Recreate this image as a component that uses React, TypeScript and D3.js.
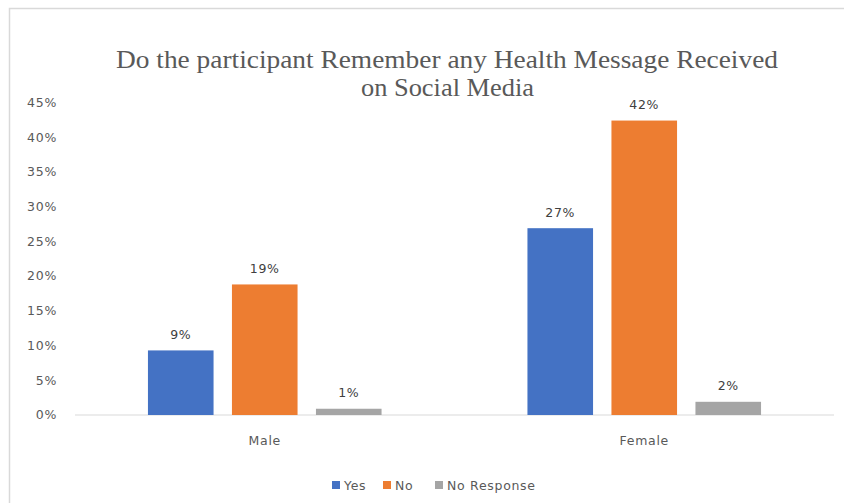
import React from "react";
import * as d3 from "d3";

const categories = ["Male", "Female"];
const seriesNames = ["Yes", "No", "No Response"];
const yesValues = [9.3, 26.9];
const noValues = [18.8, 42.4];
const noResponseValues = [0.9, 1.9];
const labelYes = ["9%", "27%"];
const labelNo = ["19%", "42%"];
const labelNoResponse = ["1%", "2%"];
const yTicks = [0, 5, 10, 15, 20, 25, 30, 35, 40, 45];
const colors = ["#4472C4", "#ED7D31", "#A5A5A5"];

const W = 844;
const H = 503;

export default function App() {
  const series = [yesValues, noValues, noResponseValues];
  const labels = [labelYes, labelNo, labelNoResponse];
  const x0 = d3.scaleBand<string>().domain(categories).range([75, 834]).paddingInner(0).paddingOuter(0);
  const y = d3.scaleLinear().domain([0, 45]).range([415, 102.5]);
  const barW = 65.6;
  const step = 84;
  const font = "'DejaVu Sans', 'Open Sans', sans-serif";
  const fs = 12.5;
  const ls = 0.7;
  const legendItems = [
    { x: 332, name: seriesNames[0] },
    { x: 383, name: seriesNames[1] },
    { x: 435, name: seriesNames[2] },
  ];
  return (
    <svg width={W} height={H} style={{ position: "absolute", left: 0, top: 0, background: "#fff" }}>
      <rect x={0} y={0} width={W} height={H} fill="#fff" />
      <rect x={9.5} y={8.5} width={W} height={H} fill="none" stroke="#d9d9d9" strokeWidth={1.5} />
      <text x={447} y={68} textAnchor="middle" fontFamily="'Liberation Serif', 'DejaVu Serif', serif" fontSize={25} fill="#595959" textLength={662} lengthAdjust="spacingAndGlyphs">
        Do the participant Remember any Health Message Received
      </text>
      <text x={447.5} y={96} textAnchor="middle" fontFamily="'Liberation Serif', 'DejaVu Serif', serif" fontSize={25} fill="#595959" textLength={173} lengthAdjust="spacingAndGlyphs">
        on Social Media
      </text>
      {yTicks.map((t) => (
        <text key={t} x={57} y={y(t)} dy="0.35em" textAnchor="end" fontFamily={font} fontSize={fs} letterSpacing={ls} fill="#595959">
          {t}%
        </text>
      ))}
      <line x1={75} x2={834} y1={y(0)} y2={y(0)} stroke="#d9d9d9" strokeWidth={1} />
      {categories.map((c, ci) => {
        const center = (x0(c) as number) + x0.bandwidth() / 2;
        return (
          <g key={c}>
            {series.map((s, si) => {
              const bx = center + (si - 1) * step - barW / 2;
              const v = s[ci];
              return (
                <g key={si}>
                  <rect x={bx} y={y(v)} width={barW} height={y(0) - y(v)} fill={colors[si]} />
                  <text x={bx + barW / 2} y={y(v) - 16} dy="0.35em" textAnchor="middle" fontFamily={font} fontSize={fs} letterSpacing={ls} fill="#404040">
                    {labels[si][ci]}
                  </text>
                </g>
              );
            })}
            <text x={center} y={441} dy="0.35em" textAnchor="middle" fontFamily={font} fontSize={fs} letterSpacing={ls} fill="#595959">
              {c}
            </text>
          </g>
        );
      })}
      {legendItems.map((l, i) => (
        <g key={l.name}>
          <rect x={l.x} y={481} width={8} height={8} fill={colors[i]} />
          <text x={l.x + 12} y={485.5} dy="0.35em" fontFamily={font} fontSize={fs} letterSpacing={ls} fill="#595959">
            {l.name}
          </text>
        </g>
      ))}
    </svg>
  );
}
